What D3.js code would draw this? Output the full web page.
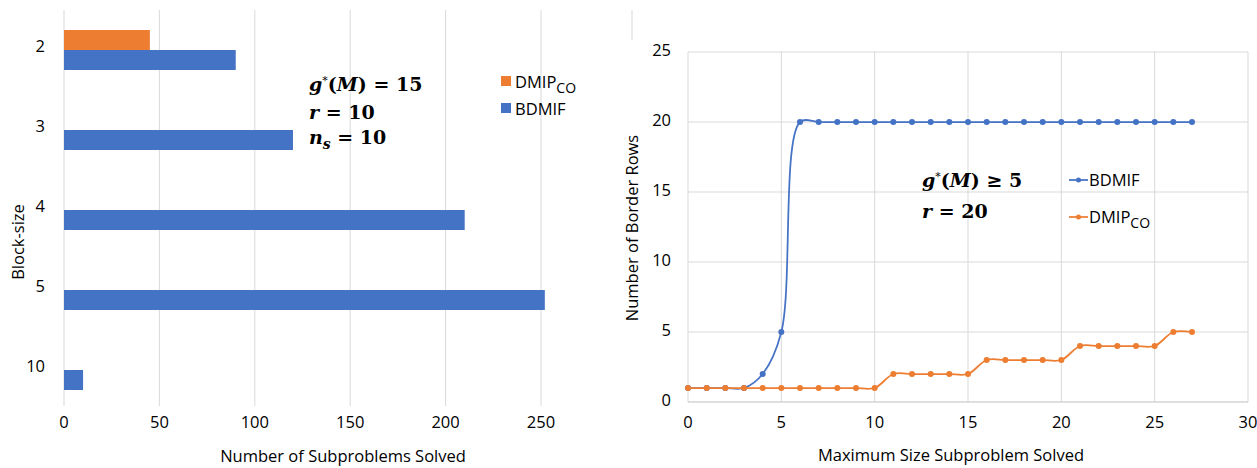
<!DOCTYPE html>
<html>
<head>
<meta charset="utf-8">
<script src="https://cdn.jsdelivr.net/npm/d3@7"></script>
<style>
  body { margin: 0; background: #fff; }
  svg text { font-family: "Open Sans", "Liberation Sans", sans-serif; fill: #000; }
  .math { font-family: "DejaVu Serif", "Liberation Serif", serif; font-weight: bold; }
</style>
</head>
<body>
<div id="chart"></div>
<script>
// Left chart: block sizes and subproblem counts
var blockSizes = ["2", "3", "4", "5", "10"];
var dmipBars = [45, null, null, null, null];
var bdmifBars = [90, 120, 210, 252, 10];
var barTicks = [0, 50, 100, 150, 200, 250];

// Right chart: border rows by maximum subproblem size
var maxSizes = d3.range(0, 28);
var bdmifRows = [1, 1, 1, 1, 2, 5, 20, 20, 20, 20, 20, 20, 20, 20, 20, 20, 20, 20, 20, 20, 20, 20, 20, 20, 20, 20, 20, 20];
var dmipRows = [1, 1, 1, 1, 1, 1, 1, 1, 1, 1, 1, 2, 2, 2, 2, 2, 3, 3, 3, 3, 3, 4, 4, 4, 4, 4, 5, 5];
var lineXTicks = [0, 5, 10, 15, 20, 25, 30];
var lineYTicks = [0, 5, 10, 15, 20, 25];

var blue = "#4472C4", orange = "#ED7D31", grid = "#d9d9d9";
var fs = "16.5px";

var svg = d3.select("#chart").append("svg")
    .attr("width", 1257)
    .attr("height", 468);

// ---------- left: horizontal bars ----------
var x1 = d3.scaleLinear().domain([0, 250]).range([64, 541]);
var y1 = d3.scaleBand().domain(blockSizes).range([10, 410]).paddingInner(0.5).paddingOuter(0.25);
var ySub = d3.scaleBand().domain(["DMIP", "BDMIF"]).range([0, y1.bandwidth()]);

svg.append("g").selectAll("line")
    .data(barTicks)
    .enter().append("line")
    .attr("x1", d => x1(d)).attr("x2", d => x1(d))
    .attr("y1", 10).attr("y2", 406)
    .attr("stroke", grid).attr("stroke-width", 1);

svg.append("g").selectAll("text")
    .data(barTicks)
    .enter().append("text")
    .attr("x", d => x1(d))
    .attr("y", 428)
    .attr("text-anchor", "middle")
    .style("font-size", fs)
    .text(d => d);

var rows = blockSizes.map((b, i) => ({ b: b, dmip: dmipBars[i], bdmif: bdmifBars[i] }));

svg.append("g").selectAll("rect.dmip")
    .data(rows.filter(d => d.dmip != null))
    .enter().append("rect")
    .attr("x", x1(0))
    .attr("y", d => y1(d.b) + ySub("DMIP"))
    .attr("width", d => x1(d.dmip) - x1(0))
    .attr("height", ySub.bandwidth())
    .attr("fill", orange);

svg.append("g").selectAll("rect.bdmif")
    .data(rows)
    .enter().append("rect")
    .attr("x", x1(0))
    .attr("y", d => y1(d.b) + ySub("BDMIF"))
    .attr("width", d => x1(d.bdmif) - x1(0))
    .attr("height", ySub.bandwidth())
    .attr("fill", blue);

svg.append("g").selectAll("text")
    .data(blockSizes)
    .enter().append("text")
    .attr("x", 45)
    .attr("y", d => y1(d) + y1.bandwidth() / 2 - 2)
    .attr("text-anchor", "end")
    .attr("dominant-baseline", "middle")
    .style("font-size", fs)
    .text(d => d);

svg.append("text")
    .attr("transform", "translate(24,242) rotate(-90)")
    .attr("text-anchor", "middle")
    .style("font-size", fs)
    .text("Block-size");

svg.append("text")
    .attr("x", 343).attr("y", 462)
    .attr("text-anchor", "middle")
    .style("font-size", fs)
    .text("Number of Subproblems Solved");

// annotation, left
function mathLine(x, y, parts) {
    var t = svg.append("text").attr("class", "math").attr("x", x).attr("y", y).style("font-size", "19px");
    parts.forEach(p => {
        var s = t.append("tspan").text(p[0]);
        if (p[1] === "i") s.style("font-style", "italic");
        if (p[1] === "sup") s.attr("dy", -7).style("font-size", "11px").style("font-weight", "normal");
        if (p[1] === "unsup") s.attr("dy", 7);
        if (p[1] === "sub") s.attr("dy", 5).style("font-size", "14px").style("font-style", "italic");
        if (p[1] === "unsub") s.attr("dy", -5);
    });
}
mathLine(309, 91, [["g", "i"], ["*", "sup"], ["(", "unsup"], ["M", "i"], [") = 15", ""]]);
mathLine(309, 119, [["r", "i"], [" = 10", ""]]);
mathLine(309, 144, [["n", "i"], ["s", "sub"], [" = 10", "unsub"]]);

// legend, left
function subLabel(x, y, main, sub) {
    var t = svg.append("text").attr("x", x).attr("y", y).style("font-size", fs);
    t.append("tspan").text(main);
    if (sub) t.append("tspan").attr("dy", 5).style("font-size", "14px").text(sub);
}
svg.append("rect").attr("x", 501).attr("y", 76).attr("width", 10).attr("height", 10).attr("fill", orange);
subLabel(515, 88, "DMIP", "CO");
svg.append("rect").attr("x", 501).attr("y", 103).attr("width", 10).attr("height", 10).attr("fill", blue);
subLabel(515, 115, "BDMIF");

// ---------- right: line chart ----------
var x2 = d3.scaleLinear().domain([0, 30]).range([688, 1248]);
var y2 = d3.scaleLinear().domain([0, 25]).range([402, 52]);

svg.append("line")
    .attr("x1", 632).attr("x2", 632).attr("y1", 10).attr("y2", 40)
    .attr("stroke", grid);

svg.append("g").selectAll("line")
    .data(lineXTicks)
    .enter().append("line")
    .attr("x1", d => x2(d)).attr("x2", d => x2(d))
    .attr("y1", y2(25)).attr("y2", y2(0))
    .attr("stroke", grid);

svg.append("g").selectAll("line")
    .data(lineYTicks)
    .enter().append("line")
    .attr("x1", x2(0)).attr("x2", x2(30))
    .attr("y1", d => y2(d)).attr("y2", d => y2(d))
    .attr("stroke", d => d === 0 ? "#bfbfbf" : grid);

svg.append("g").selectAll("text")
    .data(lineXTicks)
    .enter().append("text")
    .attr("x", d => x2(d))
    .attr("y", 428)
    .attr("text-anchor", "middle")
    .style("font-size", fs)
    .text(d => d);

svg.append("g").selectAll("text")
    .data(lineYTicks)
    .enter().append("text")
    .attr("x", 671)
    .attr("y", d => y2(d))
    .attr("text-anchor", "end")
    .attr("dominant-baseline", "middle")
    .style("font-size", fs)
    .text(d => d);

svg.append("text")
    .attr("transform", "translate(638,228) rotate(-90)")
    .attr("text-anchor", "middle")
    .style("font-size", fs)
    .text("Number of Border Rows");

svg.append("text")
    .attr("x", 951).attr("y", 461)
    .attr("text-anchor", "middle")
    .style("font-size", fs)
    .text("Maximum Size Subproblem Solved");

var line = d3.line()
    .x(d => x2(d[0]))
    .y(d => y2(d[1]))
    .curve(d3.curveCatmullRom.alpha(0.5));

function drawSeries(vals, color) {
    var pts = maxSizes.map((m, i) => [m, vals[i]]);
    svg.append("path")
        .datum(pts)
        .attr("d", line)
        .attr("fill", "none")
        .attr("stroke", color)
        .attr("stroke-width", 1.75);
    svg.append("g").selectAll("circle")
        .data(pts)
        .enter().append("circle")
        .attr("cx", d => x2(d[0]))
        .attr("cy", d => y2(d[1]))
        .attr("r", 3)
        .attr("fill", color);
}
drawSeries(bdmifRows, blue);
drawSeries(dmipRows, orange);

// annotation, right
mathLine(922, 187, [["g", "i"], ["*", "sup"], ["(", "unsup"], ["M", "i"], [") \u2265 5", ""]]);
mathLine(922, 218, [["r", "i"], [" = 20", ""]]);

// legend, right
function lineKey(y, color) {
    svg.append("line").attr("x1", 1069).attr("x2", 1088).attr("y1", y).attr("y2", y)
        .attr("stroke", color).attr("stroke-width", 1.75);
    svg.append("circle").attr("cx", 1078.5).attr("cy", y).attr("r", 2.5).attr("fill", color);
}
lineKey(180, blue);
subLabel(1089, 186, "BDMIF");
lineKey(217, orange);
subLabel(1089, 223, "DMIP", "CO");
</script>
</body>
</html>
